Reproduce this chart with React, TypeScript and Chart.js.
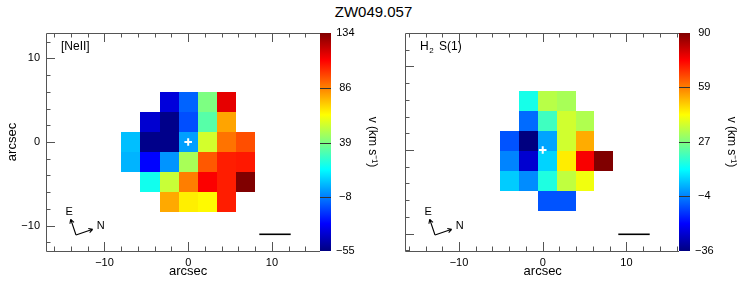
import React, { useEffect, useRef } from 'react';
import { Chart, registerables } from 'chart.js';

Chart.register(...registerables);

// ---------------- data ----------------
const TITLE = 'ZW049.057';

// [NeII] velocity map: cell centres (arcsec) and velocities (km/s), rows top -> bottom
const NEII_COL_X = [-6.84, -4.56, -2.28, 0, 2.28, 4.56, 6.84];
const NEII_ROW_Y = [4.8, 2.4, 0, -2.4, -4.8, -7.2];
const NEII_VEL: (number | null)[][] = [
  [null, null, -38, -13, 39, 115, null],
  [null, -40, -53, -17, 32, 80, null],
  [4, -53, -53, -2, 55, 89, 96],
  [2, -31, -4, 47, 94, 105, 106],
  [null, 19, 53, 87, 111, 105, 134],
  [null, null, 79, 66, 64, 105, null],
];
const NEII_CBAR_TICKS = [-55, -8, 39, 86, 134];

// H2 S(1) velocity map
const H2_COL_X = [-3.94, -1.69, 0.56, 2.81, 5.06, 7.31];
const H2_ROW_Y = [5.8, 3.41, 1.02, -1.37, -3.76, -6.15];
const H2_VEL: (number | null)[][] = [
  [null, 14, 34, 32, null, null],
  [null, -7, 19, 37, 33, null],
  [-10, -36, 0, 37, 53, null],
  [-4, -26, 6, 45, 75, 90],
  [5, -3, 15, 35, 41, null],
  [null, null, -10, -10, null, null],
];
const H2_CBAR_TICKS = [-36, -4, 27, 59, 90];

const AXIS_MAJOR_TICKS = [-10, 0, 10];
const AXIS_MINOR_STEP = 2;
const NUCLEUS = [{ x: 0, y: 0 }];

// ---------------- styling helpers ----------------
const FONT = "'Liberation Sans', Arial, Helvetica, sans-serif";
Chart.defaults.font.family = FONT;
Chart.defaults.color = '#000';

const JET_STOPS: [number, string][] = [
  [0, 'rgb(0,0,128)'],
  [0.125, 'rgb(0,0,255)'],
  [0.375, 'rgb(0,255,255)'],
  [0.625, 'rgb(255,255,0)'],
  [0.875, 'rgb(255,0,0)'],
  [1, 'rgb(128,0,0)'],
];

function clamp01(v: number) {
  return Math.max(0, Math.min(1, v));
}
function jet(t: number) {
  t = clamp01(t);
  const r = clamp01(1.5 - Math.abs(4 * t - 3));
  const g = clamp01(1.5 - Math.abs(4 * t - 2));
  const b = clamp01(1.5 - Math.abs(4 * t - 1));
  return `rgb(${Math.round(r * 255)},${Math.round(g * 255)},${Math.round(b * 255)})`;
}
function fmt(v: number) {
  return v < 0 ? '\u2212' + Math.abs(v) : String(v);
}

type Panel = {
  key: string;
  left: number;
  width: number;
  yAxisW: number;
  cbarW: number;
  xMin: number;
  xMax: number;
  yMin: number;
  yMax: number;
  cellW: number;
  cellH: number;
  colX: number[];
  rowY: number[];
  vel: (number | null)[][];
  cbar: number[];
  showY: boolean;
  cbTitlePad: number;
};

const PANELS: Panel[] = [
  {
    key: 'neii', left: 0, width: 390, yAxisW: 46, cbarW: 70,
    xMin: -16.99, xMax: 15.75, yMin: -13.02, yMax: 13.02,
    cellW: 2.28, cellH: 2.4,
    colX: NEII_COL_X, rowY: NEII_ROW_Y, vel: NEII_VEL, cbar: NEII_CBAR_TICKS,
    showY: true, cbTitlePad: 10,
  },
  {
    key: 'h2', left: 390, width: 357, yAxisW: 15, cbarW: 68,
    xMin: -16.45, xMax: 16.28, yMin: -12.07, yMax: 13.98,
    cellW: 2.25, cellH: 2.39,
    colX: H2_COL_X, rowY: H2_ROW_Y, vel: H2_VEL, cbar: H2_CBAR_TICKS,
    showY: false, cbTitlePad: 8,
  },
];

function buildMinorTicks(scale: any) {
  const out: { value: number }[] = [];
  const start = Math.ceil(scale.min / AXIS_MINOR_STEP) * AXIS_MINOR_STEP;
  for (let v = start; v <= scale.max + 1e-9; v += AXIS_MINOR_STEP) out.push({ value: v });
  scale.ticks = out;
}
const isMajor = (v: number) => AXIS_MAJOR_TICKS.indexOf(v) >= 0;

function arrow(ctx: CanvasRenderingContext2D, x0: number, y0: number, x1: number, y1: number) {
  const ang = Math.atan2(y1 - y0, x1 - x0);
  const h = 4.5;
  ctx.beginPath();
  ctx.moveTo(x0, y0);
  ctx.lineTo(x1, y1);
  ctx.moveTo(x1, y1);
  ctx.lineTo(x1 - h * Math.cos(ang - 0.5), y1 - h * Math.sin(ang - 0.5));
  ctx.moveTo(x1, y1);
  ctx.lineTo(x1 - h * Math.cos(ang + 0.5), y1 - h * Math.sin(ang + 0.5));
  ctx.stroke();
}

function makePlugin(p: Panel) {
  const vmin = p.cbar[0];
  const vmax = p.cbar[p.cbar.length - 1];
  return {
    id: 'panel-' + p.key,
    beforeDatasetsDraw(chart: any) {
      const ctx: CanvasRenderingContext2D = chart.ctx;
      const xs = chart.scales.x;
      const ys = chart.scales.y;
      ctx.save();
      p.vel.forEach((row, r) =>
        row.forEach((v, c) => {
          if (v === null) return;
          const x0 = Math.round(xs.getPixelForValue(p.colX[c] - p.cellW / 2));
          const x1 = Math.round(xs.getPixelForValue(p.colX[c] + p.cellW / 2));
          const y0 = Math.round(ys.getPixelForValue(p.rowY[r] + p.cellH / 2));
          const y1 = Math.round(ys.getPixelForValue(p.rowY[r] - p.cellH / 2));
          ctx.fillStyle = jet((v - vmin) / (vmax - vmin));
          ctx.fillRect(x0, y0, x1 - x0, y1 - y0);
        })
      );
      ctx.restore();
    },
    afterDraw(chart: any) {
      const ctx: CanvasRenderingContext2D = chart.ctx;
      const a = chart.chartArea;
      const xs = chart.scales.x;
      const ys = chart.scales.y;
      const cs = chart.scales.cb;
      ctx.save();

      // frame (top, left, bottom)
      ctx.strokeStyle = '#555';
      ctx.lineWidth = 1;
      ctx.beginPath();
      ctx.moveTo(a.right, a.top + 0.5);
      ctx.lineTo(a.left + 0.5, a.top + 0.5);
      ctx.lineTo(a.left + 0.5, a.bottom + 0.5);
      ctx.lineTo(a.right, a.bottom + 0.5);
      ctx.stroke();

      // inward tick marks
      ctx.beginPath();
      xs.ticks.forEach((t: any) => {
        const px = Math.round(xs.getPixelForValue(t.value)) + 0.5;
        const len = isMajor(t.value) ? 9 : 4.5;
        ctx.moveTo(px, a.bottom);
        ctx.lineTo(px, a.bottom - len);
        ctx.moveTo(px, a.top);
        ctx.lineTo(px, a.top + len);
      });
      ys.ticks.forEach((t: any) => {
        const py = Math.round(ys.getPixelForValue(t.value)) + 0.5;
        const len = isMajor(t.value) ? 9 : 4.5;
        ctx.moveTo(a.left, py);
        ctx.lineTo(a.left + len, py);
      });
      ctx.stroke();

      // colour bar
      const cbW = 11;
      const yTop = cs.getPixelForValue(vmax);
      const yBot = cs.getPixelForValue(vmin);
      const g = ctx.createLinearGradient(0, yBot, 0, yTop);
      JET_STOPS.forEach(([s, col]) => g.addColorStop(s, col));
      ctx.fillStyle = g;
      ctx.fillRect(a.right, yTop, cbW, yBot - yTop);
      ctx.strokeStyle = '#333';
      ctx.beginPath();
      p.cbar.slice(1, -1).forEach((v) => {
        const py = Math.round(cs.getPixelForValue(v)) + 0.5;
        ctx.moveTo(a.right, py);
        ctx.lineTo(a.right + cbW, py);
      });
      ctx.stroke();

      // x axis title centred on 0
      ctx.fillStyle = '#000';
      ctx.font = `13px ${FONT}`;
      ctx.textAlign = 'center';
      ctx.textBaseline = 'middle';
      ctx.fillText('arcsec', xs.getPixelForValue(0), a.bottom + 20);

      // scale bar
      ctx.strokeStyle = '#000';
      ctx.lineWidth = 1.6;
      ctx.beginPath();
      ctx.moveTo(a.right - 60.7, a.bottom - 16.7);
      ctx.lineTo(a.right - 29.3, a.bottom - 16.7);
      ctx.stroke();

      // compass
      const ox = a.left + 30;
      const oy = a.bottom - 16;
      ctx.lineWidth = 1.1;
      arrow(ctx, ox, oy, ox - 5.3, oy - 15.7);
      arrow(ctx, ox, oy, ox + 16.7, oy - 5.7);
      ctx.font = `11px ${FONT}`;
      ctx.fillText('E', ox - 6.8, oy - 23.3);
      ctx.fillText('N', ox + 24.7, oy - 9);

      // panel label
      ctx.textAlign = 'left';
      const lx = a.left + 15;
      const ly = a.top + 14;
      if (p.key === 'neii') {
        ctx.font = `12px ${FONT}`;
        ctx.fillText('[NeII]', lx, ly);
      } else {
        ctx.font = `12px ${FONT}`;
        ctx.fillText('H', lx, ly);
        const hw = ctx.measureText('H').width;
        ctx.font = `8px ${FONT}`;
        ctx.fillText('2', lx + hw + 0.5, ly + 3.5);
        const sw = ctx.measureText('2').width;
        ctx.font = `12px ${FONT}`;
        ctx.fillText('S(1)', lx + hw + sw + 6, ly);
      }
      ctx.restore();
    },
  };
}

function PanelChart({ p }: { p: Panel }) {
  const ref = useRef<HTMLCanvasElement | null>(null);
  useEffect(() => {
    if (!ref.current) return;
    const noGrid = { display: false, drawTicks: false, drawOnChartArea: false };
    const chart = new Chart(ref.current, {
      type: 'scatter',
      data: {
        datasets: [
          {
            data: NUCLEUS,
            pointStyle: 'cross',
            pointRadius: 3.8,
            pointBorderWidth: 2,
            pointBorderColor: '#fff',
            pointBackgroundColor: '#fff',
            borderColor: '#fff',
            showLine: false,
          } as any,
        ],
      },
      options: {
        animation: false,
        responsive: false,
        maintainAspectRatio: false,
        events: [],
        layout: { padding: { top: 33, left: 0, right: 0, bottom: 0 } },
        plugins: {
          legend: { display: false },
          tooltip: { enabled: false },
          title: { display: false },
        },
        scales: {
          x: {
            type: 'linear',
            position: 'bottom',
            min: p.xMin,
            max: p.xMax,
            grid: noGrid,
            border: { display: false },
            ticks: {
              autoSkip: false,
              maxRotation: 0,
              padding: 5,
              font: { size: 11 },
              color: '#000',
              callback: (v: any) => (isMajor(Number(v)) ? fmt(Number(v)) : ''),
            },
            title: { display: false },
            afterBuildTicks: buildMinorTicks,
            afterFit: (s: any) => {
              s.height = 34;
            },
          },
          y: {
            type: 'linear',
            position: 'left',
            min: p.yMin,
            max: p.yMax,
            grid: noGrid,
            border: { display: false },
            ticks: {
              display: p.showY,
              autoSkip: false,
              padding: 6,
              font: { size: 11 },
              color: '#000',
              callback: (v: any) => (isMajor(Number(v)) ? fmt(Number(v)) : ''),
            },
            title: {
              display: p.showY,
              text: 'arcsec',
              font: { size: 13 },
              color: '#000',
              padding: { top: 5, bottom: 0 },
            },
            afterBuildTicks: buildMinorTicks,
            afterFit: (s: any) => {
              s.width = p.yAxisW;
            },
          },
          cb: {
            type: 'linear',
            position: 'right',
            min: p.cbar[0],
            max: p.cbar[p.cbar.length - 1],
            grid: noGrid,
            border: { display: false },
            ticks: {
              autoSkip: false,
              padding: 16,
              crossAlign: 'center',
              font: { size: 11 },
              color: '#000',
              callback: (v: any) => fmt(Number(v)),
            },
            title: {
              display: true,
              text: 'v (km s\u207B\u00B9)',
              font: { size: 12 },
              color: '#000',
              padding: { top: p.cbTitlePad, bottom: 0 },
            },
            afterBuildTicks: (s: any) => {
              s.ticks = p.cbar.map((v) => ({ value: v }));
            },
            afterFit: (s: any) => {
              s.width = p.cbarW;
            },
          },
        },
      } as any,
      plugins: [makePlugin(p)],
    });
    return () => chart.destroy();
  }, [p]);
  return (
    <canvas
      ref={ref}
      width={p.width}
      height={285}
      style={{ position: 'absolute', left: p.left, top: 0, width: p.width, height: 285 }}
    />
  );
}

export default function App() {
  return (
    <div
      style={{
        position: 'absolute',
        left: 0,
        top: 0,
        width: 747,
        height: 285,
        background: '#fff',
        overflow: 'hidden',
      }}
    >
      <div
        style={{
          position: 'absolute',
          left: 0,
          top: 4,
          width: 747,
          textAlign: 'center',
          font: `15px ${FONT}`,
          lineHeight: '16px',
          color: '#000',
        }}
      >
        {TITLE}
      </div>
      {PANELS.map((p) => (
        <PanelChart key={p.key} p={p} />
      ))}
    </div>
  );
}
